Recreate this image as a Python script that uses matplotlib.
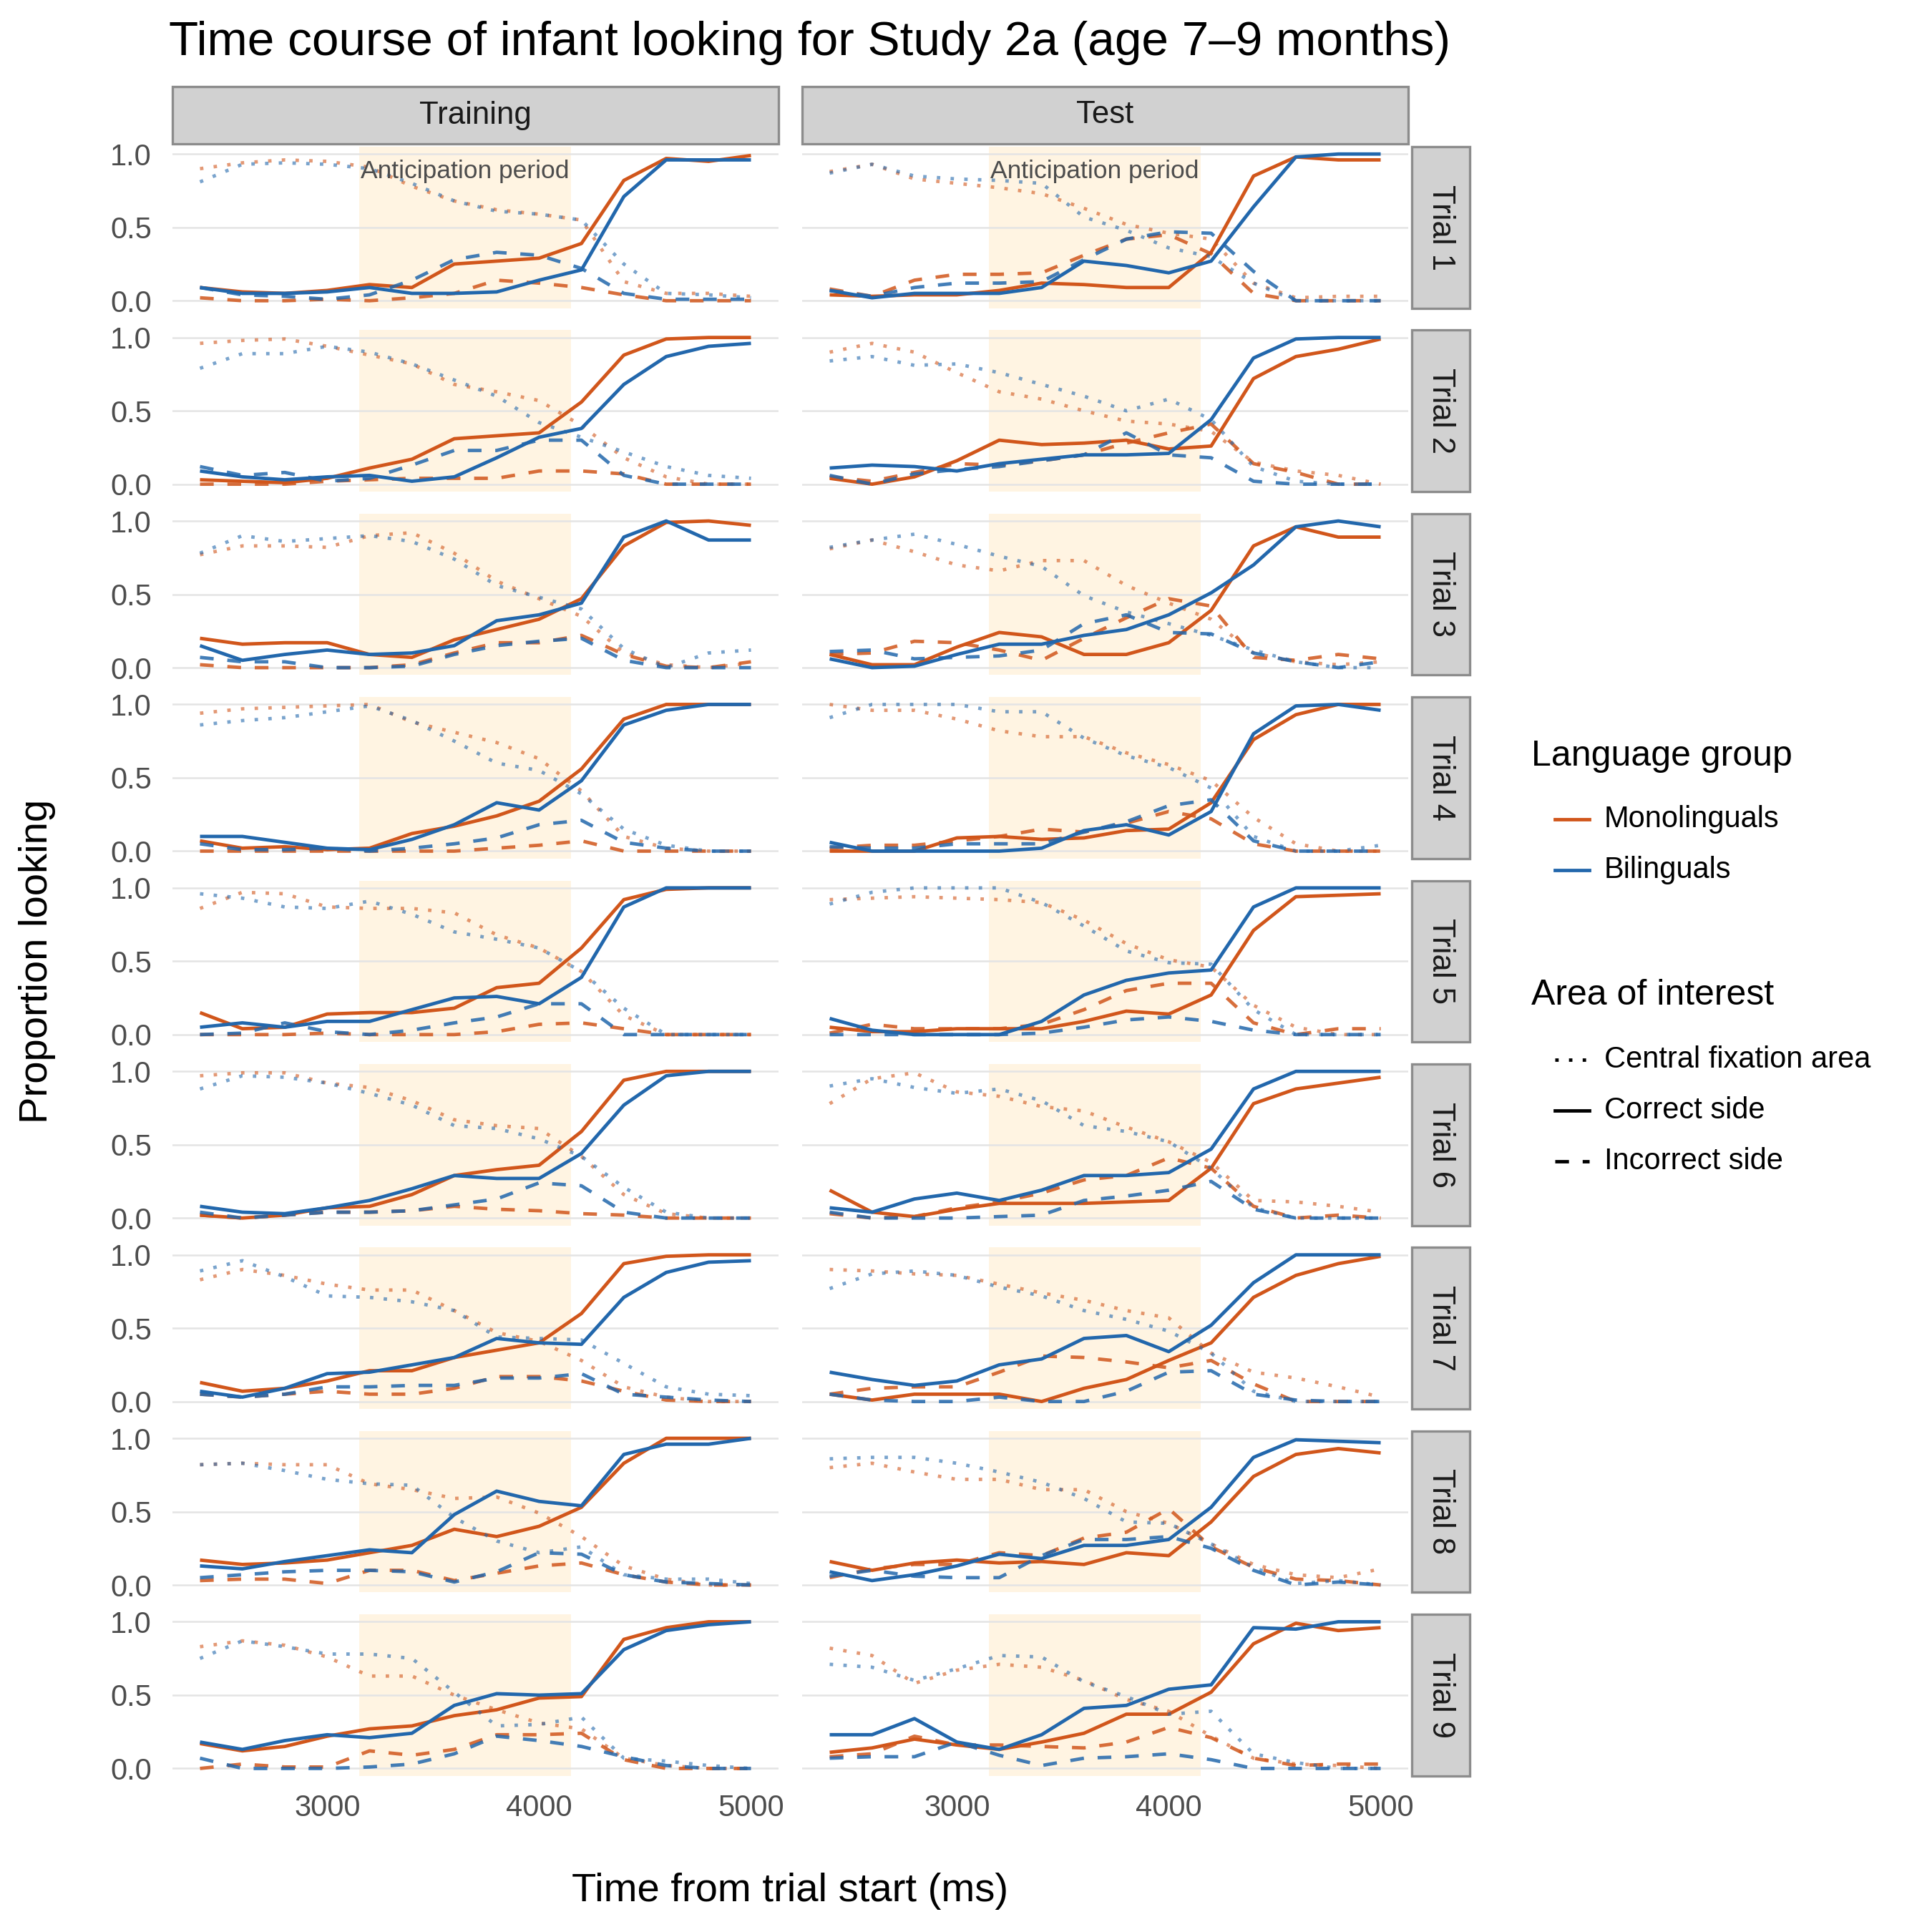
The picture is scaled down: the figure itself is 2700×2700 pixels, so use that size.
import matplotlib.pyplot as plt
from matplotlib.lines import Line2D
from matplotlib.patches import Rectangle

plt.rcParams['font.family'] = ['Liberation Sans', 'DejaVu Sans']

time_ms = [2400, 2600, 2800, 3000, 3200, 3400, 3600, 3800, 4000, 4200, 4400, 4600, 4800, 5000]
trials = ["Trial %d" % i for i in range(1, 10)]
phases = ["Training", "Test"]
anticipation = (3150, 4150)

# one row per trial, one value per time bin
train_mono_central = [
    [0.90, 0.94, 0.96, 0.95, 0.91, 0.78, 0.68, 0.62, 0.59, 0.55, 0.13, 0.05, 0.05, 0.03],
    [0.96, 0.98, 0.99, 0.94, 0.88, 0.82, 0.68, 0.63, 0.57, 0.40, 0.18, 0.05, 0.00, 0.00],
    [0.77, 0.83, 0.83, 0.82, 0.90, 0.92, 0.78, 0.59, 0.47, 0.35, 0.10, 0.02, 0.00, 0.03],
    [0.94, 0.97, 0.98, 0.99, 1.00, 0.88, 0.81, 0.74, 0.63, 0.41, 0.10, 0.02, 0.00, 0.00],
    [0.86, 0.97, 0.96, 0.87, 0.86, 0.86, 0.83, 0.68, 0.59, 0.43, 0.13, 0.00, 0.00, 0.00],
    [0.97, 0.99, 0.99, 0.92, 0.89, 0.80, 0.67, 0.63, 0.61, 0.42, 0.16, 0.03, 0.00, 0.00],
    [0.83, 0.90, 0.86, 0.80, 0.76, 0.76, 0.62, 0.47, 0.41, 0.28, 0.10, 0.03, 0.00, 0.00],
    [0.82, 0.83, 0.82, 0.82, 0.69, 0.65, 0.59, 0.60, 0.49, 0.33, 0.13, 0.04, 0.00, 0.00],
    [0.83, 0.87, 0.84, 0.76, 0.63, 0.63, 0.50, 0.40, 0.31, 0.27, 0.07, 0.02, 0.00, 0.00],
]
train_bi_central = [
    [0.81, 0.93, 0.94, 0.93, 0.90, 0.80, 0.68, 0.61, 0.59, 0.55, 0.25, 0.05, 0.04, 0.02],
    [0.79, 0.89, 0.89, 0.94, 0.90, 0.82, 0.71, 0.60, 0.42, 0.32, 0.22, 0.12, 0.06, 0.04],
    [0.78, 0.90, 0.86, 0.88, 0.90, 0.86, 0.74, 0.56, 0.48, 0.40, 0.13, 0.00, 0.10, 0.12],
    [0.86, 0.89, 0.91, 0.95, 0.99, 0.89, 0.75, 0.60, 0.55, 0.39, 0.15, 0.04, 0.00, 0.00],
    [0.96, 0.93, 0.87, 0.86, 0.91, 0.82, 0.70, 0.65, 0.59, 0.43, 0.18, 0.00, 0.00, 0.00],
    [0.88, 0.97, 0.96, 0.92, 0.85, 0.77, 0.63, 0.61, 0.54, 0.42, 0.21, 0.04, 0.00, 0.00],
    [0.89, 0.96, 0.85, 0.72, 0.71, 0.68, 0.62, 0.44, 0.43, 0.42, 0.26, 0.10, 0.05, 0.04],
    [0.82, 0.83, 0.78, 0.72, 0.69, 0.68, 0.46, 0.30, 0.22, 0.26, 0.07, 0.04, 0.04, 0.01],
    [0.75, 0.87, 0.83, 0.78, 0.78, 0.75, 0.52, 0.29, 0.30, 0.35, 0.07, 0.05, 0.02, 0.00],
]
train_mono_correct = [
    [0.09, 0.06, 0.05, 0.07, 0.11, 0.09, 0.25, 0.27, 0.29, 0.39, 0.82, 0.97, 0.95, 0.99],
    [0.03, 0.02, 0.01, 0.04, 0.11, 0.17, 0.31, 0.33, 0.35, 0.56, 0.88, 0.99, 1.00, 1.00],
    [0.20, 0.16, 0.17, 0.17, 0.09, 0.07, 0.19, 0.26, 0.33, 0.47, 0.83, 0.99, 1.00, 0.97],
    [0.07, 0.02, 0.03, 0.01, 0.02, 0.12, 0.17, 0.24, 0.34, 0.56, 0.90, 1.00, 1.00, 1.00],
    [0.15, 0.04, 0.05, 0.14, 0.15, 0.15, 0.18, 0.32, 0.35, 0.59, 0.92, 0.99, 1.00, 1.00],
    [0.02, 0.00, 0.02, 0.07, 0.08, 0.16, 0.29, 0.33, 0.36, 0.59, 0.94, 1.00, 1.00, 1.00],
    [0.13, 0.07, 0.09, 0.14, 0.21, 0.21, 0.30, 0.35, 0.40, 0.60, 0.94, 0.99, 1.00, 1.00],
    [0.17, 0.14, 0.15, 0.17, 0.22, 0.27, 0.38, 0.33, 0.40, 0.53, 0.83, 1.00, 1.00, 1.00],
    [0.17, 0.12, 0.15, 0.22, 0.27, 0.29, 0.36, 0.40, 0.48, 0.49, 0.88, 0.96, 1.00, 1.00],
]
train_bi_correct = [
    [0.09, 0.05, 0.05, 0.06, 0.09, 0.05, 0.05, 0.06, 0.14, 0.21, 0.71, 0.96, 0.96, 0.96],
    [0.09, 0.05, 0.03, 0.05, 0.06, 0.02, 0.05, 0.18, 0.32, 0.38, 0.68, 0.87, 0.94, 0.96],
    [0.15, 0.05, 0.09, 0.12, 0.09, 0.10, 0.15, 0.32, 0.36, 0.44, 0.89, 1.00, 0.87, 0.87],
    [0.10, 0.10, 0.06, 0.02, 0.01, 0.08, 0.18, 0.33, 0.28, 0.48, 0.86, 0.96, 1.00, 1.00],
    [0.05, 0.08, 0.05, 0.09, 0.09, 0.17, 0.25, 0.26, 0.21, 0.39, 0.87, 1.00, 1.00, 1.00],
    [0.08, 0.04, 0.03, 0.07, 0.12, 0.20, 0.29, 0.27, 0.27, 0.44, 0.77, 0.97, 1.00, 1.00],
    [0.07, 0.03, 0.09, 0.19, 0.20, 0.25, 0.30, 0.43, 0.40, 0.39, 0.71, 0.88, 0.95, 0.96],
    [0.13, 0.11, 0.16, 0.20, 0.24, 0.22, 0.48, 0.64, 0.57, 0.54, 0.89, 0.96, 0.96, 1.00],
    [0.18, 0.13, 0.19, 0.23, 0.21, 0.24, 0.43, 0.51, 0.50, 0.51, 0.81, 0.94, 0.98, 1.00],
]
train_mono_incorrect = [
    [0.02, 0.00, 0.00, 0.01, 0.00, 0.02, 0.05, 0.14, 0.12, 0.09, 0.04, 0.00, 0.00, 0.00],
    [0.00, 0.00, 0.00, 0.02, 0.03, 0.04, 0.04, 0.04, 0.09, 0.09, 0.07, 0.00, 0.00, 0.00],
    [0.02, 0.00, 0.00, 0.00, 0.00, 0.02, 0.10, 0.17, 0.17, 0.22, 0.09, 0.01, 0.00, 0.04],
    [0.00, 0.00, 0.00, 0.00, 0.00, 0.00, 0.00, 0.02, 0.04, 0.07, 0.00, 0.00, 0.00, 0.00],
    [0.00, 0.00, 0.00, 0.01, 0.00, 0.00, 0.00, 0.02, 0.07, 0.08, 0.04, 0.00, 0.00, 0.00],
    [0.02, 0.00, 0.02, 0.04, 0.04, 0.05, 0.08, 0.06, 0.05, 0.03, 0.02, 0.00, 0.00, 0.00],
    [0.05, 0.03, 0.05, 0.07, 0.05, 0.05, 0.09, 0.17, 0.17, 0.14, 0.07, 0.01, 0.00, 0.00],
    [0.03, 0.04, 0.04, 0.01, 0.10, 0.10, 0.03, 0.08, 0.13, 0.15, 0.07, 0.02, 0.00, 0.00],
    [0.00, 0.03, 0.01, 0.01, 0.12, 0.09, 0.13, 0.23, 0.23, 0.24, 0.06, 0.00, 0.00, 0.00],
]
train_bi_incorrect = [
    [0.09, 0.04, 0.03, 0.01, 0.04, 0.14, 0.28, 0.33, 0.31, 0.22, 0.05, 0.01, 0.01, 0.01],
    [0.12, 0.06, 0.08, 0.02, 0.04, 0.13, 0.23, 0.23, 0.30, 0.30, 0.06, 0.00, 0.00, 0.00],
    [0.07, 0.04, 0.04, 0.00, 0.00, 0.01, 0.09, 0.15, 0.18, 0.20, 0.05, 0.00, 0.00, 0.00],
    [0.05, 0.01, 0.01, 0.02, 0.00, 0.02, 0.05, 0.09, 0.18, 0.21, 0.06, 0.02, 0.00, 0.00],
    [0.00, 0.01, 0.08, 0.02, 0.00, 0.03, 0.08, 0.12, 0.21, 0.21, 0.00, 0.00, 0.00, 0.00],
    [0.04, 0.00, 0.02, 0.04, 0.04, 0.05, 0.09, 0.13, 0.24, 0.22, 0.04, 0.00, 0.00, 0.00],
    [0.05, 0.03, 0.05, 0.10, 0.10, 0.11, 0.11, 0.16, 0.16, 0.19, 0.05, 0.03, 0.01, 0.00],
    [0.05, 0.07, 0.09, 0.10, 0.10, 0.09, 0.02, 0.09, 0.22, 0.21, 0.07, 0.02, 0.01, 0.00],
    [0.07, 0.00, 0.00, 0.00, 0.01, 0.03, 0.10, 0.22, 0.19, 0.15, 0.08, 0.02, 0.00, 0.00],
]

test_mono_central = [
    [0.88, 0.93, 0.83, 0.80, 0.77, 0.73, 0.63, 0.52, 0.46, 0.42, 0.12, 0.02, 0.03, 0.03],
    [0.90, 0.96, 0.90, 0.76, 0.63, 0.58, 0.50, 0.43, 0.41, 0.36, 0.15, 0.09, 0.06, 0.00],
    [0.81, 0.87, 0.79, 0.70, 0.66, 0.73, 0.73, 0.56, 0.44, 0.33, 0.10, 0.04, 0.02, 0.04],
    [1.00, 0.96, 0.96, 0.90, 0.82, 0.78, 0.78, 0.67, 0.59, 0.48, 0.23, 0.05, 0.00, 0.00],
    [0.92, 0.93, 0.94, 0.93, 0.92, 0.90, 0.78, 0.62, 0.51, 0.46, 0.20, 0.05, 0.00, 0.00],
    [0.78, 0.95, 0.99, 0.86, 0.83, 0.76, 0.73, 0.62, 0.52, 0.38, 0.12, 0.11, 0.08, 0.04],
    [0.90, 0.89, 0.87, 0.86, 0.80, 0.74, 0.69, 0.62, 0.57, 0.33, 0.20, 0.16, 0.10, 0.03],
    [0.80, 0.83, 0.77, 0.72, 0.72, 0.65, 0.65, 0.50, 0.42, 0.28, 0.14, 0.07, 0.05, 0.11],
    [0.82, 0.77, 0.58, 0.67, 0.71, 0.69, 0.60, 0.47, 0.39, 0.22, 0.07, 0.03, 0.02, 0.00],
]
test_bi_central = [
    [0.87, 0.93, 0.85, 0.83, 0.82, 0.80, 0.57, 0.48, 0.36, 0.30, 0.12, 0.00, 0.00, 0.00],
    [0.84, 0.87, 0.81, 0.82, 0.76, 0.68, 0.60, 0.50, 0.58, 0.44, 0.12, 0.02, 0.00, 0.00],
    [0.82, 0.87, 0.91, 0.84, 0.76, 0.69, 0.49, 0.38, 0.30, 0.22, 0.12, 0.04, 0.00, 0.00],
    [0.91, 1.00, 1.00, 1.00, 0.95, 0.95, 0.77, 0.65, 0.57, 0.43, 0.10, 0.00, 0.00, 0.04],
    [0.89, 0.97, 1.00, 1.00, 1.00, 0.90, 0.74, 0.57, 0.49, 0.48, 0.17, 0.00, 0.00, 0.00],
    [0.90, 0.95, 0.89, 0.85, 0.88, 0.80, 0.63, 0.59, 0.52, 0.34, 0.07, 0.00, 0.00, 0.00],
    [0.77, 0.87, 0.89, 0.86, 0.78, 0.72, 0.62, 0.56, 0.48, 0.33, 0.07, 0.00, 0.00, 0.00],
    [0.86, 0.87, 0.87, 0.83, 0.77, 0.70, 0.59, 0.43, 0.42, 0.28, 0.12, 0.01, 0.03, 0.00],
    [0.71, 0.69, 0.60, 0.68, 0.77, 0.76, 0.59, 0.49, 0.37, 0.39, 0.10, 0.04, 0.00, 0.00],
]
test_mono_correct = [
    [0.04, 0.03, 0.04, 0.04, 0.07, 0.12, 0.11, 0.09, 0.09, 0.33, 0.85, 0.98, 0.96, 0.96],
    [0.04, 0.00, 0.05, 0.16, 0.30, 0.27, 0.28, 0.30, 0.24, 0.26, 0.72, 0.87, 0.92, 0.99],
    [0.09, 0.02, 0.02, 0.14, 0.24, 0.21, 0.09, 0.09, 0.17, 0.39, 0.83, 0.96, 0.89, 0.89],
    [0.00, 0.00, 0.00, 0.09, 0.10, 0.08, 0.09, 0.14, 0.15, 0.33, 0.76, 0.93, 1.00, 1.00],
    [0.05, 0.02, 0.02, 0.04, 0.04, 0.04, 0.09, 0.16, 0.14, 0.27, 0.71, 0.94, 0.95, 0.96],
    [0.19, 0.04, 0.01, 0.06, 0.10, 0.10, 0.10, 0.11, 0.12, 0.34, 0.78, 0.88, 0.92, 0.96],
    [0.05, 0.01, 0.05, 0.05, 0.05, 0.00, 0.09, 0.15, 0.28, 0.40, 0.71, 0.86, 0.94, 0.99],
    [0.16, 0.10, 0.15, 0.17, 0.15, 0.16, 0.14, 0.22, 0.20, 0.43, 0.74, 0.89, 0.93, 0.90],
    [0.11, 0.14, 0.20, 0.16, 0.13, 0.18, 0.24, 0.37, 0.37, 0.52, 0.85, 0.99, 0.94, 0.96],
]
test_bi_correct = [
    [0.07, 0.02, 0.05, 0.05, 0.05, 0.09, 0.27, 0.24, 0.19, 0.27, 0.64, 0.98, 1.00, 1.00],
    [0.11, 0.13, 0.12, 0.09, 0.14, 0.17, 0.20, 0.20, 0.21, 0.44, 0.86, 0.99, 1.00, 1.00],
    [0.06, 0.00, 0.01, 0.09, 0.16, 0.16, 0.22, 0.26, 0.36, 0.51, 0.70, 0.96, 1.00, 0.96],
    [0.06, 0.00, 0.00, 0.00, 0.00, 0.02, 0.14, 0.18, 0.11, 0.27, 0.80, 0.99, 1.00, 0.96],
    [0.11, 0.03, 0.00, 0.00, 0.00, 0.09, 0.27, 0.37, 0.42, 0.44, 0.87, 1.00, 1.00, 1.00],
    [0.07, 0.04, 0.13, 0.17, 0.12, 0.19, 0.29, 0.29, 0.31, 0.47, 0.88, 1.00, 1.00, 1.00],
    [0.20, 0.15, 0.11, 0.14, 0.25, 0.29, 0.43, 0.45, 0.34, 0.52, 0.81, 1.00, 1.00, 1.00],
    [0.09, 0.03, 0.07, 0.13, 0.21, 0.18, 0.27, 0.27, 0.31, 0.53, 0.87, 0.99, 0.98, 0.97],
    [0.23, 0.23, 0.34, 0.18, 0.13, 0.23, 0.41, 0.43, 0.54, 0.57, 0.96, 0.95, 1.00, 1.00],
]
test_mono_incorrect = [
    [0.08, 0.03, 0.14, 0.18, 0.18, 0.19, 0.31, 0.42, 0.45, 0.32, 0.05, 0.00, 0.00, 0.00],
    [0.05, 0.02, 0.08, 0.14, 0.13, 0.16, 0.20, 0.28, 0.35, 0.41, 0.14, 0.08, 0.00, 0.00],
    [0.09, 0.10, 0.18, 0.17, 0.12, 0.05, 0.20, 0.34, 0.47, 0.42, 0.07, 0.05, 0.09, 0.06],
    [0.02, 0.04, 0.04, 0.07, 0.10, 0.15, 0.13, 0.19, 0.27, 0.22, 0.05, 0.00, 0.00, 0.00],
    [0.01, 0.07, 0.04, 0.04, 0.04, 0.07, 0.17, 0.30, 0.35, 0.35, 0.08, 0.00, 0.04, 0.04],
    [0.03, 0.00, 0.01, 0.07, 0.11, 0.17, 0.26, 0.29, 0.41, 0.34, 0.08, 0.00, 0.02, 0.00],
    [0.05, 0.09, 0.10, 0.10, 0.20, 0.31, 0.30, 0.27, 0.23, 0.28, 0.12, 0.00, 0.00, 0.00],
    [0.05, 0.11, 0.14, 0.14, 0.22, 0.20, 0.32, 0.36, 0.52, 0.26, 0.12, 0.04, 0.03, 0.00],
    [0.08, 0.10, 0.22, 0.16, 0.16, 0.15, 0.14, 0.18, 0.28, 0.21, 0.07, 0.02, 0.03, 0.03],
]
test_bi_incorrect = [
    [0.07, 0.03, 0.09, 0.12, 0.12, 0.13, 0.28, 0.42, 0.47, 0.46, 0.20, 0.00, 0.00, 0.00],
    [0.06, 0.00, 0.07, 0.10, 0.12, 0.16, 0.20, 0.35, 0.20, 0.18, 0.02, 0.00, 0.00, 0.00],
    [0.11, 0.12, 0.06, 0.07, 0.08, 0.12, 0.30, 0.36, 0.24, 0.23, 0.10, 0.04, 0.00, 0.04],
    [0.03, 0.02, 0.02, 0.05, 0.05, 0.05, 0.13, 0.20, 0.31, 0.35, 0.07, 0.00, 0.00, 0.00],
    [0.00, 0.00, 0.00, 0.00, 0.00, 0.01, 0.05, 0.10, 0.12, 0.09, 0.03, 0.00, 0.00, 0.00],
    [0.04, 0.00, 0.00, 0.00, 0.01, 0.02, 0.12, 0.15, 0.19, 0.25, 0.06, 0.00, 0.00, 0.00],
    [0.05, 0.01, 0.00, 0.00, 0.03, 0.00, 0.00, 0.07, 0.20, 0.21, 0.05, 0.01, 0.00, 0.00],
    [0.06, 0.10, 0.06, 0.05, 0.05, 0.20, 0.31, 0.31, 0.33, 0.25, 0.10, 0.00, 0.02, 0.00],
    [0.07, 0.08, 0.08, 0.18, 0.09, 0.02, 0.07, 0.08, 0.10, 0.06, 0.00, 0.00, 0.00, 0.00],
]

series = {
    "Training": {
        "mono": {"central": train_mono_central, "correct": train_mono_correct, "incorrect": train_mono_incorrect},
        "bi": {"central": train_bi_central, "correct": train_bi_correct, "incorrect": train_bi_incorrect},
    },
    "Test": {
        "mono": {"central": test_mono_central, "correct": test_mono_correct, "incorrect": test_mono_incorrect},
        "bi": {"central": test_bi_central, "correct": test_bi_correct, "incorrect": test_bi_incorrect},
    },
}

group_colors = {"mono": "#D1561B", "bi": "#2267AC"}
group_labels = {"mono": "Monolinguals", "bi": "Bilinguals"}
aoi_styles = {"central": (0, (1, 3)), "correct": "-", "incorrect": (0, (4, 4))}
aoi_alpha = {"central": 0.6, "correct": 1.0, "incorrect": 0.85}
aoi_labels = {"central": "Central fixation area", "correct": "Correct side", "incorrect": "Incorrect side"}
LW = 1.15

W = 2700.0


def fx(px):
    return px / W


def fy(py):
    return 1 - py / W


fig = plt.figure(figsize=(9, 9), dpi=300)

col_left = [241, 1121]
col_w = 847
row_top0 = 205
row_step = 256.4
row_h = 225.5

for r, trial in enumerate(trials):
    top = row_top0 + r * row_step
    for c, phase in enumerate(phases):
        ax = fig.add_axes([fx(col_left[c]), fy(top + row_h), col_w / W, row_h / W])
        ax.axvspan(anticipation[0], anticipation[1], color="#FFF4E2", lw=0, zorder=0)
        for g in ["mono", "bi"]:
            for aoi in ["central", "correct", "incorrect"]:
                ax.plot(time_ms, series[phase][g][aoi][r], color=group_colors[g],
                        linestyle=aoi_styles[aoi], alpha=aoi_alpha[aoi], lw=LW,
                        solid_capstyle="butt", dash_capstyle="butt", zorder=2)
        ax.set_xlim(2270, 5130)
        ax.set_ylim(-0.05, 1.05)
        ax.set_yticks([0.0, 0.5, 1.0])
        ax.set_xticks([3000, 4000, 5000])
        ax.grid(axis="y", color="#E4E4E4", lw=0.6, zorder=1)
        ax.set_axisbelow(True)
        for s in ax.spines.values():
            s.set_visible(False)
        ax.tick_params(length=0, labelsize=10, labelcolor="#4D4D4D", pad=7)
        if c == 0:
            ax.set_yticklabels(["0.0", "0.5", "1.0"])
        else:
            ax.set_yticklabels([])
        if r == len(trials) - 1:
            ax.set_xticklabels(["3000", "4000", "5000"])
            ax.tick_params(axis="x", pad=6)
        else:
            ax.set_xticklabels([])
        if r == 0:
            ax.text(sum(anticipation) / 2, 0.88, "Anticipation period", ha="center", va="center",
                    fontsize=8.5, color="#4D4D4D", zorder=3)
    # right strip
    fig.add_artist(Rectangle((fx(1973), fy(top + row_h)), 81 / W, row_h / W,
                             transform=fig.transFigure, facecolor="#D1D1D1",
                             edgecolor="#8C8C8C", lw=0.8))
    fig.text(fx(1973 + 40.5), fy(top + row_h / 2), trial, rotation=-90, ha="center",
             va="center", fontsize=10.5, color="#1A1A1A")

# top strips
for c, phase in enumerate(phases):
    fig.add_artist(Rectangle((fx(col_left[c]), fy(201)), col_w / W, 80 / W,
                             transform=fig.transFigure, facecolor="#D1D1D1",
                             edgecolor="#8C8C8C", lw=0.8))
    fig.text(fx(col_left[c] + col_w / 2), fy(161), phase, ha="center", va="center",
             fontsize=10.5, color="#1A1A1A")

fig.text(fx(236), fy(60), "Time course of infant looking for Study 2a (age 7\u20139 months)",
         ha="left", va="center", fontsize=16.2)
fig.text(fx(1104), fy(2643), "Time from trial start (ms)", ha="center", va="center", fontsize=13.5)
fig.text(fx(52), fy(1343), "Proportion looking", ha="center", va="center", rotation=90, fontsize=13.5)

# legends
fig.text(fx(2140), fy(1057), "Language group", ha="left", va="center", fontsize=12)
for i, g in enumerate(["mono", "bi"]):
    y = fy(1145 + i * 71)
    fig.add_artist(Line2D([fx(2173), fx(2221)], [y, y], transform=fig.transFigure,
                          color=group_colors[g], lw=LW))
    fig.text(fx(2242), y, group_labels[g], ha="left", va="center", fontsize=10)

fig.text(fx(2140), fy(1391), "Area of interest", ha="left", va="center", fontsize=12)
for i, aoi in enumerate(["central", "correct", "incorrect"]):
    y = fy(1481 + i * 71)
    fig.add_artist(Line2D([fx(2173), fx(2221)], [y, y], transform=fig.transFigure,
                          color="black", lw=LW, linestyle=aoi_styles[aoi], dash_capstyle="butt"))
    fig.text(fx(2242), y, aoi_labels[aoi], ha="left", va="center", fontsize=10)

fig.savefig("out.png", dpi=300, facecolor="white")
